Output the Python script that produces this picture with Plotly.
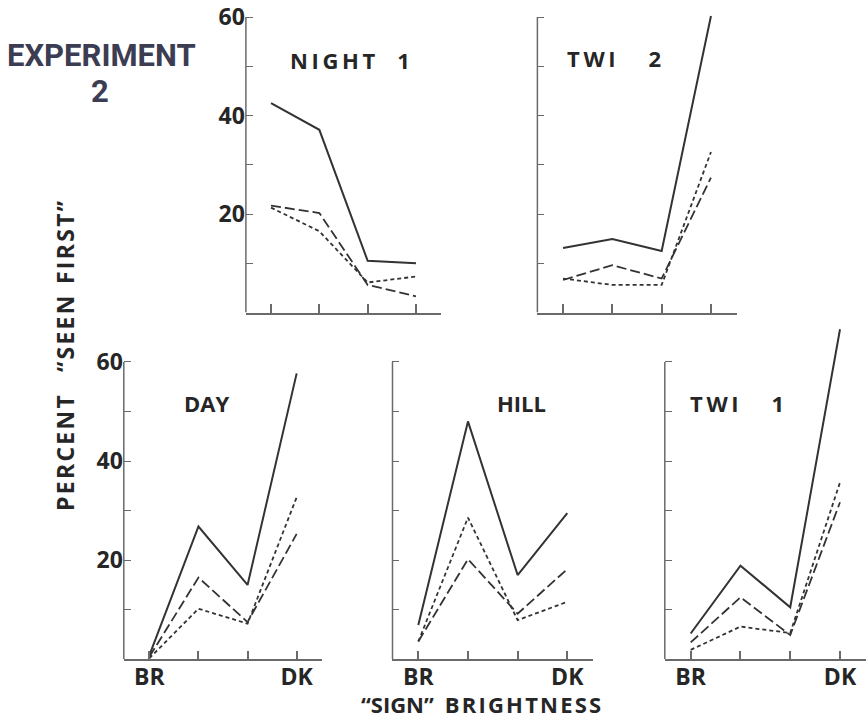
import plotly.graph_objects as go

# Sign brightness positions (bright -> dark)
positions = [0, 1, 2, 3]
bottom_ticktext = ["BR", "", "", "DK"]
top_ticktext = ["", "", "", ""]

# Percent "seen first" for the three viewing conditions in each panel
night1_solid = [42.5, 37.1, 10.5, 10.0]
night1_dash = [21.7, 20.2, 5.6, 3.3]
night1_dot = [21.3, 16.5, 6.1, 7.3]

twi2_solid = [13.1, 14.9, 12.5, 60.2]
twi2_dash = [6.6, 9.6, 6.9, 27.4]
twi2_dot = [6.9, 5.6, 5.6, 32.6]

day_solid = [0.8, 26.8, 15.0, 57.7]
day_dash = [0.5, 16.5, 7.5, 25.3]
day_dot = [0.2, 10.2, 7.2, 32.7]

hill_solid = [6.9, 48.0, 17.0, 29.5]
hill_dash = [3.6, 20.2, 9.2, 18.2]
hill_dot = [3.6, 28.6, 7.9, 11.6]

twi1_solid = [5.2, 18.9, 10.5, 66.6]
twi1_dash = [3.4, 12.5, 4.9, 31.7]
twi1_dot = [1.9, 6.6, 5.3, 35.7]

y_tickvals = [10, 20, 30, 40, 50, 60]
y_ticktext_labeled = ["", "20", "", "40", "", "60"]
y_ticktext_blank = [""] * 6

FONT = "Open Sans"
INK = "#262626"
AXIS = "#6a6a6a"
HEAD = "#3c3d52"


def spaced(text, sep="\u200a"):
    return sep.join(text)


panels = [
    # name, series, x domain, y domain, y range top, labeled y, labeled x
    ("NIGHT 1", (night1_solid, night1_dash, night1_dot), [0.28395, 0.50935], [0.56597, 0.98319], 61, True, False),
    ("TWI 2", (twi2_solid, twi2_dash, twi2_dot), [0.62055, 0.85058], [0.56597, 0.98319], 61, False, False),
    ("DAY", (day_solid, day_dash, day_dot), [0.14296, 0.37206], [0.08431, 0.54889], 67.5, True, True),
    ("HILL", (hill_solid, hill_dash, hill_dot), [0.45323, 0.68487], [0.08431, 0.54889], 67.5, False, True),
    ("TWI 1", (twi1_solid, twi1_dash, twi1_dot), [0.76767, 0.99988], [0.08431, 0.54889], 67.5, False, True),
]

styles = [
    dict(dash="solid", width=2.0),
    dict(dash="10px,4px", width=1.8),
    dict(dash="4px,3px", width=1.8),
]
series_names = ["Condition A", "Condition B", "Condition C"]

fig = go.Figure()
layout = dict(
    template="none",
    width=866, height=720,
    margin=dict(l=0, r=0, t=0, b=0, autoexpand=False),
    paper_bgcolor="white", plot_bgcolor="white",
    showlegend=False,
)
shapes = []
annotations = []

for i, (name, series, xdom, ydom, ytop, ylab, xlab) in enumerate(panels):
    k = "" if i == 0 else str(i + 1)
    xa, ya = "x" + k, "y" + k
    for vals, st, sn in zip(series, styles, series_names):
        fig.add_trace(go.Scatter(
            x=positions, y=vals, mode="lines", name=sn,
            line=dict(color="#333333", width=st["width"], dash=st["dash"]),
            xaxis=xa, yaxis=ya, hoverinfo="skip",
        ))
    layout["xaxis" + k] = dict(
        domain=xdom, range=[-0.52, 3.52], anchor=ya, automargin=False,
        showline=True, linecolor=AXIS, linewidth=1.5,
        ticks="inside", ticklen=9, tickwidth=1.5, tickcolor=AXIS,
        tickvals=positions,
        ticktext=bottom_ticktext if xlab else top_ticktext,
        tickfont=dict(family=FONT, size=23, color=INK, weight=700),
        ticklabelstandoff=-4,
        showgrid=False, zeroline=False, fixedrange=True,
    )
    layout["yaxis" + k] = dict(
        domain=ydom, range=[0, ytop], anchor=xa, automargin=False,
        showline=False,
        ticks="inside", ticklen=7, tickwidth=1.2, tickcolor=AXIS,
        tickvals=y_tickvals,
        ticktext=y_ticktext_labeled if ylab else y_ticktext_blank,
        tickfont=dict(family=FONT, size=23, color=INK, weight=700),
        ticklabelstandoff=0,
        showgrid=False, zeroline=False, fixedrange=True,
    )
    # vertical axis runs from 0 to 60 only
    shapes.append(dict(
        type="line", xref=xa + " domain", yref=ya,
        x0=0, x1=0, y0=0, y1=60,
        line=dict(color=AXIS, width=1.5),
    ))

# panel titles
title_pos = {
    "NIGHT 1": (350, 60),
    "TWI 2": (614, 58),
    "DAY": (206, 403),
    "HILL": (521, 403),
    "TWI 1": (737, 403),
}
title_text = {
    "NIGHT 1": spaced("NIGHT", "\u2009") + "\u2003" + "1",
    "TWI 2": spaced("TWI", "\u2009") + "\u2003\u2002" + "2",
    "DAY": "DAY",
    "HILL": "HILL",
    "TWI 1": spaced("TWI", "\u2009") + "\u2003\u2002" + "1",
}
for key, (px, py) in title_pos.items():
    annotations.append(dict(
        text=title_text[key], x=px / 866, y=1 - py / 720,
        xref="paper", yref="paper", showarrow=False,
        xanchor="center", yanchor="middle",
        font=dict(family=FONT, size=22, color=INK, weight=700),
    ))

# experiment heading
annotations.append(dict(
    text="EXPERIMENT", x=101 / 866, y=1 - 56 / 720,
    xref="paper", yref="paper", showarrow=False,
    xanchor="center", yanchor="middle",
    font=dict(family="Roboto", size=31, color=HEAD, weight=700),
))
annotations.append(dict(
    text="2", x=100 / 866, y=1 - 91 / 720,
    xref="paper", yref="paper", showarrow=False,
    xanchor="center", yanchor="middle",
    font=dict(family="Roboto", size=31, color=HEAD, weight=700),
))

# axis titles
annotations.append(dict(
    text=spaced("PERCENT", "\u200a") + "\u2003" + spaced("\u201cSEEN", "\u200a") + "\u2002" + spaced("FIRST\u201d", "\u200a"),
    x=65 / 866, y=1 - 356 / 720,
    xref="paper", yref="paper", showarrow=False, textangle=-90,
    xanchor="center", yanchor="middle",
    font=dict(family=FONT, size=23, color=INK, weight=700),
))
annotations.append(dict(
    text="\u201cSIGN\u201d" + "\u2002" + spaced("BRIGHTNESS", "\u200a"),
    x=481 / 866, y=1 - 704 / 720,
    xref="paper", yref="paper", showarrow=False,
    xanchor="center", yanchor="middle",
    font=dict(family=FONT, size=22, color=INK, weight=700),
))

layout["shapes"] = shapes
layout["annotations"] = annotations
fig.update_layout(**layout)
fig.write_html("out.html")
